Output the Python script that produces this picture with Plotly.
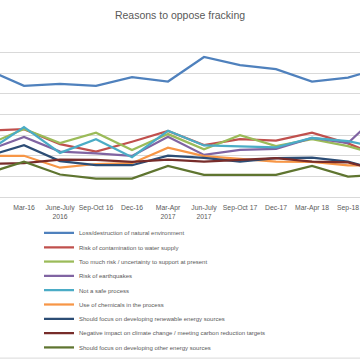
import plotly.graph_objects as go

categories = ["Dec-15", "Mar-16", "June-July<br>2016", "Sep-Oct 16", "Dec-16",
              "Mar-Apr<br>2017", "Jun-July<br>2017", "Sep-Oct 17", "Dec-17",
              "Mar-Apr 18", "Sep-18", "Dec-18"]

loss_environment = [61.6, 53.9, 54.9, 53.9, 58.1, 56.0, 67.9, 63.9, 62.0, 56.0, 57.9, 63.0]
water_contamination = [32.2, 32.9, 25.6, 22.0, 26.8, 32.0, 25.2, 28.0, 27.3, 31.2, 26.0, 18.8]
too_much_risk = [25.4, 33.0, 26.2, 31.2, 22.8, 30.5, 23.1, 30.0, 24.7, 28.0, 24.7, 19.7]
earthquakes = [22.6, 29.1, 22.0, 21.2, 19.9, 29.2, 20.4, 22.9, 23.3, 28.6, 26.2, 42.6]
not_safe = [22.3, 33.9, 21.4, 28.0, 19.3, 32.1, 25.0, 24.7, 24.1, 28.6, 27.1, 23.4]
chemicals = [20.0, 20.0, 14.2, 16.0, 16.4, 23.9, 19.8, 18.6, 17.1, 17.0, 15.3, 15.3]
renewables_focus = [19.9, 25.1, 17.4, 15.4, 15.4, 20.0, 19.0, 17.1, 18.8, 19.1, 17.1, 12.3]
climate_change = [16.0, 16.4, 18.1, 18.0, 17.0, 18.1, 17.1, 18.0, 18.8, 17.1, 16.8, 12.4]
other_sources = [11.6, 17.1, 10.9, 8.9, 8.9, 15.1, 10.7, 10.7, 10.7, 15.1, 9.9, 10.9]

series_names = [
    "Loss/destruction of natural environment",
    "Risk of contamination to water supply",
    "Too much risk / uncertainty to support at present",
    "Risk of earthquakes",
    "Not a safe process",
    "Use of chemicals in the process",
    "Should focus on developing renewable energy sources",
    "Negative impact on climate change / meeting carbon reduction targets",
    "Should focus on developing other energy sources",
]
series_values = [loss_environment, water_contamination, too_much_risk, earthquakes,
                 not_safe, chemicals, renewables_focus, climate_change, other_sources]
series_colors = ["#4F81BD", "#C0504D", "#9BBB59", "#8064A2", "#4BACC6",
                 "#F79646", "#2C4D75", "#772C2A", "#5F7530"]

W, H = 360, 360
top, bottom = 31.5, 197.2
plot_h = bottom - top

fig = go.Figure()
legend_layouts = {}
for i, (name, vals, col) in enumerate(zip(series_names, series_values, series_colors)):
    lg = "legend" if i == 0 else f"legend{i + 1}"
    fig.add_trace(go.Scatter(x=categories, y=vals, mode="lines", name=name,
                             line=dict(color=col, width=2.25), legend=lg))
    row_px = 233.3 + 14.37 * i
    legend_layouts[lg] = dict(
        x=39 / W, xanchor="left", y=(bottom - row_px) / plot_h, yanchor="middle",
        font=dict(family="Liberation Sans", size=6.0, color="#595959"),
        bgcolor="rgba(0,0,0,0)", borderwidth=0, itemwidth=30)

fig.update_layout(
    width=W, height=H,
    margin=dict(l=0, r=0, t=top, b=H - bottom, pad=0, autoexpand=False),
    paper_bgcolor="white", plot_bgcolor="white",
    title=dict(text="Reasons to oppose fracking", x=0.5, xanchor="center",
               y=1 - 15 / H, yanchor="middle", automargin=False,
               font=dict(family="Liberation Sans", size=10.5, color="#595959")),
    font=dict(family="Liberation Sans", color="#595959"),
    xaxis=dict(type="category", range=[1 / 3, 10 + 1 / 3], showgrid=False,
               showline=True, linecolor="#D9D9D9", linewidth=1, ticks="",
               automargin=False, ticklabelstandoff=4,
               tickangle=0, tickfont=dict(size=6.8, color="#595959"), zeroline=False),
    yaxis=dict(range=[0, 80], dtick=10, showgrid=True, gridcolor="#D9D9D9",
               gridwidth=1, showticklabels=False, zeroline=False, showline=False,
               automargin=False),
    showlegend=True,
    shapes=[dict(type="line", xref="paper", yref="paper", x0=0, x1=1,
                 y0=(bottom - 359) / plot_h, y1=(bottom - 359) / plot_h,
                 line=dict(color="#D9D9D9", width=1))],
    **legend_layouts,
)

fig.write_html("out.html", config={"displayModeBar": False},
               post_script="document.body.style.margin='0';")
